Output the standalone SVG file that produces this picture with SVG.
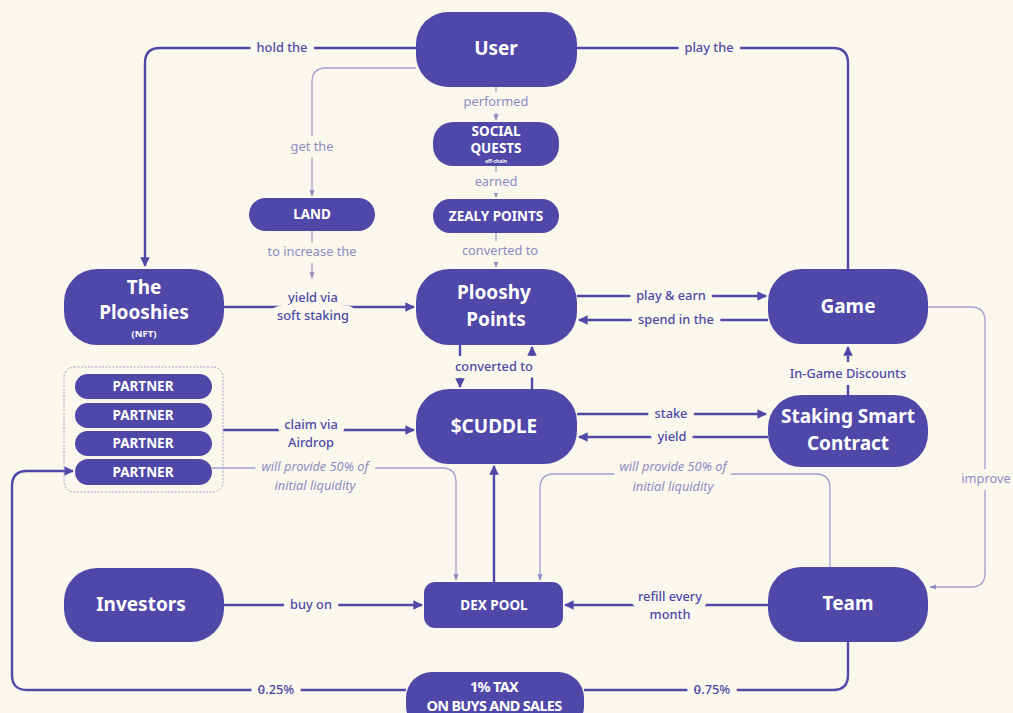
<svg xmlns="http://www.w3.org/2000/svg" width="1013" height="713" viewBox="0 0 1013 713">
<style>
.node{fill:#4F48A8}
.nt{fill:#fff;font-family:"Noto Sans",Lato,sans-serif;font-weight:700;text-anchor:middle}
.big{font-size:19px}
.sm{font-size:13.5px}
.dk{fill:none;stroke:#4F48A8;stroke-width:2.4}
.lt{fill:none;stroke:#A19DCF;stroke-width:1.3}
.lbl{font-family:"Noto Sans",Lato,sans-serif;font-size:12.8px;font-weight:500;fill:#4F48A8;text-anchor:middle;paint-order:stroke;stroke:#FAF8EC;stroke-width:14px;stroke-linejoin:round}
.lbll{font-family:"Noto Sans",Lato,sans-serif;font-size:12.8px;fill:#8F8BC4;text-anchor:middle;paint-order:stroke;stroke:#FAF8EC;stroke-width:14px;stroke-linejoin:round}
.it{font-style:italic}
</style>
<defs>
<marker id="ad" viewBox="0 0 10 10" refX="9" refY="5" markerWidth="4" markerHeight="4" orient="auto-start-reverse"><path d="M0,0 L10,5 L0,10 z" fill="#4F48A8"/></marker>
<marker id="al" viewBox="0 0 10 10" refX="9" refY="5" markerWidth="5" markerHeight="5" orient="auto-start-reverse"><path d="M0,1 L10,5 L0,9 z" fill="#8F8BC4"/></marker>
</defs>
<rect width="1013" height="713" fill="#FAF8EC"/>

<g id="connectors">
<path class="dk" d="M416,48 H160 Q145,48 145,63 V266" marker-end="url(#ad)"/>
<text class="lbl" x="282" y="52">hold the</text>
<path class="dk" d="M577,48 H833 Q848,48 848,63 V269"/>
<text class="lbl" x="709" y="52">play the</text>
<path class="lt" d="M416,68 H326 Q312,68 312,82 V196" marker-end="url(#al)"/>
<text class="lbll" x="312" y="151">get the</text>
<path class="lt" d="M496,87 V120" marker-end="url(#al)"/>
<text class="lbll" x="496" y="106">performed</text>
<path class="lt" d="M496,166 V197" marker-end="url(#al)"/>
<text class="lbll" x="496" y="186">earned</text>
<path class="lt" d="M496,233 V267" marker-end="url(#al)"/>
<text class="lbll" x="500" y="255">converted to</text>
<path class="lt" d="M312,231 V278" marker-end="url(#al)"/>
<text class="lbll" x="312" y="256">to increase the</text>
<path class="dk" d="M224,307 H414" marker-end="url(#ad)"/>
<text class="lbl" x="313" y="302">yield via</text>
<text class="lbl" x="313" y="320">soft staking</text>
<path class="dk" d="M577,296 H766" marker-end="url(#ad)"/>
<text class="lbl" x="671" y="300">play &amp; earn</text>
<path class="dk" d="M768,320 H579" marker-end="url(#ad)"/>
<text class="lbl" x="676" y="324">spend in the</text>
<path class="dk" d="M460,345 V356"/>
<path class="dk" d="M460,377 V387" marker-end="url(#ad)"/>
<path class="dk" d="M532,389 V377"/>
<path class="dk" d="M532,356 V347" marker-end="url(#ad)"/>
<text class="lbl" x="494" y="371">converted to</text>
<path class="dk" d="M848,395 V385"/>
<path class="dk" d="M848,362 V347" marker-end="url(#ad)"/>
<text class="lbl" x="848" y="378">In-Game Discounts</text>
<path class="dk" d="M577,414 H766" marker-end="url(#ad)"/>
<text class="lbl" x="671" y="418">stake</text>
<path class="dk" d="M768,437 H579" marker-end="url(#ad)"/>
<text class="lbl" x="672" y="441">yield</text>
<path class="dk" d="M223,430 H414" marker-end="url(#ad)"/>
<text class="lbl" x="311" y="429">claim via</text>
<text class="lbl" x="311" y="447">Airdrop</text>
<path class="lt" d="M212,468 H442 Q456,468 456,482 V580" marker-end="url(#al)"/>
<text class="lbll it" x="315" y="471">will provide 50% of</text>
<text class="lbll it" x="315" y="490">initial liquidity</text>
<path class="lt" d="M830,567 V488 Q830,474 816,474 H554 Q540,474 540,488 V580" marker-end="url(#al)"/>
<text class="lbll it" x="673" y="471">will provide 50% of</text>
<text class="lbll it" x="673" y="491">initial liquidity</text>
<path class="dk" d="M494,582 V466" marker-end="url(#ad)"/>
<path class="dk" d="M224,605 H422" marker-end="url(#ad)"/>
<text class="lbl" x="311" y="609">buy on</text>
<path class="dk" d="M768,605 H565" marker-end="url(#ad)"/>
<text class="lbl" x="670" y="601">refill every</text>
<text class="lbl" x="670" y="619">month</text>
<path class="lt" d="M928,307 H971 Q985,307 985,321 V573 Q985,587 971,587 H930" marker-end="url(#al)"/>
<text class="lbll" x="986" y="483">improve</text>
<path class="dk" d="M406,690 H27 Q12,690 12,675 V486 Q12,471 27,471 H73" marker-end="url(#ad)"/>
<text class="lbl" x="276" y="694">0.25%</text>
<path class="dk" d="M584,690 H833 Q848,690 848,675 V642"/>
<text class="lbl" x="712" y="694">0.75%</text>
</g>

<g id="user"><rect class="node" x="416" y="12" width="161" height="75" rx="32"/><text class="nt big" x="496" y="55">User</text></g>
<g id="social-quests"><rect class="node" x="433" y="122" width="126" height="44" rx="20"/><text class="nt" font-size="13.5" x="496" y="136">SOCIAL</text><text class="nt" font-size="13.5" x="496" y="153">QUESTS</text><text class="nt" font-size="5" font-weight="400" x="496" y="163">off-chain</text></g>
<g id="zealy"><rect class="node" x="433" y="199" width="126" height="34" rx="17"/><text class="nt sm" x="496" y="221">ZEALY POINTS</text></g>
<g id="land"><rect class="node" x="249" y="198" width="126" height="33" rx="16.5"/><text class="nt sm" x="312" y="219">LAND</text></g>
<g id="plooshies"><rect class="node" x="64" y="269" width="160" height="76" rx="33"/><text class="nt big" x="144" y="294">The</text><text class="nt big" x="144" y="319">Plooshies</text><text class="nt" font-size="9.5" font-weight="400" x="144" y="337">(NFT)</text></g>
<g id="plooshy-points"><rect class="node" x="416" y="269" width="161" height="76" rx="33"/><text class="nt big" x="494" y="299">Plooshy</text><text class="nt big" x="496" y="326">Points</text></g>
<g id="game"><rect class="node" x="768" y="269" width="160" height="75" rx="33"/><text class="nt big" x="848" y="313">Game</text></g>
<g id="cuddle"><rect class="node" x="416" y="389" width="161" height="75" rx="33"/><text class="nt big" x="494" y="433">$CUDDLE</text></g>
<g id="staking"><rect class="node" x="768" y="395" width="160" height="72" rx="33"/><text class="nt big" x="848" y="423">Staking Smart</text><text class="nt big" x="848" y="450">Contract</text></g>
<g id="partners">
<rect x="64" y="367" width="159" height="125" rx="10" fill="none" stroke="#A19DCF" stroke-width="1" stroke-dasharray="2 1.5"/>
<rect class="node" x="75" y="374" width="137" height="25" rx="12.5"/><text class="nt sm" x="143" y="391">PARTNER</text>
<rect class="node" x="75" y="403" width="137" height="25" rx="12.5"/><text class="nt sm" x="143" y="420">PARTNER</text>
<rect class="node" x="75" y="431" width="137" height="25" rx="12.5"/><text class="nt sm" x="143" y="448">PARTNER</text>
<rect class="node" x="75" y="459" width="137" height="26" rx="13"/><text class="nt sm" x="143" y="477">PARTNER</text>
</g>
<g id="dex"><rect class="node" x="424" y="582" width="139" height="46" rx="11"/><text class="nt sm" x="494" y="610">DEX POOL</text></g>
<g id="investors"><rect class="node" x="64" y="568" width="160" height="74" rx="33"/><text class="nt big" x="141" y="611">Investors</text></g>
<g id="team"><rect class="node" x="768" y="567" width="160" height="75" rx="33"/><text class="nt big" x="848" y="610">Team</text></g>
<g id="tax"><rect class="node" x="406" y="672" width="178" height="60" rx="26"/><text class="nt" font-size="14.5" letter-spacing="-0.7" x="494" y="692">1% TAX</text><text class="nt" font-size="14.5" letter-spacing="-0.7" x="494" y="711">ON BUYS AND SALES</text></g>
</svg>
